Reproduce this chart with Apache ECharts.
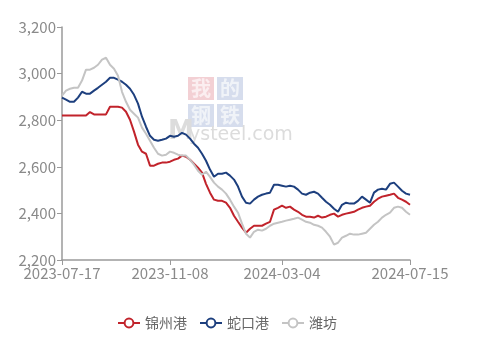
<!DOCTYPE html>
<html>
<head>
<meta charset="utf-8">
<script src="https://cdn.jsdelivr.net/npm/echarts@6/dist/echarts.min.js"></script>
<style>html,body{margin:0;padding:0;background:#fff;}#c{width:500px;height:338px;}</style>
</head>
<body>
<div id="c"></div>
<script>
const dates = [
'2023-07-17','2023-07-20','2023-07-25','2023-07-28','2023-08-02','2023-08-07','2023-08-10','2023-08-15','2023-08-18','2023-08-23','2023-08-28','2023-08-31','2023-09-05','2023-09-08','2023-09-13','2023-09-18','2023-09-21','2023-09-26','2023-10-09','2023-10-12','2023-10-17','2023-10-20','2023-10-25','2023-10-30','2023-11-01','2023-11-03','2023-11-06','2023-11-08',
'2023-11-13','2023-11-16','2023-11-21','2023-11-24','2023-11-29','2023-12-04','2023-12-07','2023-12-12','2023-12-15','2023-12-20','2023-12-25','2023-12-28','2024-01-03','2024-01-08','2024-01-11','2024-01-16','2024-01-19','2024-01-24','2024-01-29','2024-02-01','2024-02-06','2024-02-19','2024-02-21','2024-02-23','2024-02-26','2024-02-28','2024-03-01','2024-03-04',
'2024-03-07','2024-03-12','2024-03-15','2024-03-20','2024-03-25','2024-03-28','2024-04-02','2024-04-08','2024-04-11','2024-04-16','2024-04-19','2024-04-24','2024-04-28','2024-05-06','2024-05-09','2024-05-14','2024-05-17','2024-05-22','2024-05-27','2024-05-30','2024-06-04','2024-06-07','2024-06-13','2024-06-18','2024-06-21','2024-06-26','2024-07-01','2024-07-04','2024-07-09','2024-07-11','2024-07-12','2024-07-15'
];
const xTickLabels = ['2023-07-17','2023-11-08','2024-03-04','2024-07-15'];
const seriesNames = ['锦州港','蛇口港','潍坊'];
const jinzhou = [2820,2820,2820,2820,2820,2820,2820,2835,2825,2825,2825,2825,2858,2858,2858,2854,2836,2802,2751,2695,2665,2656,2605,2605,2613,2618,2618,2622,2630,2635,2648,2643,2630,2613,2596,2575,2527,2489,2459,2454,2454,2446,2424,2390,2364,2339,2317,2334,2347,2347,2347,2356,2364,2416,2424,2433,2424,2429,2416,2407,2394,2386,2386,2382,2390,2382,2386,2394,2399,2386,2394,2399,2403,2407,2416,2424,2429,2433,2450,2463,2472,2476,2480,2485,2467,2459,2450,2437];
const shekou = [2897,2888,2879,2879,2897,2922,2914,2914,2927,2939,2952,2965,2982,2982,2974,2965,2952,2935,2909,2871,2815,2772,2733,2716,2712,2716,2721,2733,2729,2733,2746,2738,2721,2699,2682,2656,2626,2588,2557,2570,2570,2575,2562,2545,2515,2472,2446,2442,2459,2472,2480,2485,2489,2523,2523,2519,2515,2519,2515,2502,2485,2480,2489,2493,2485,2467,2450,2437,2420,2407,2437,2446,2442,2442,2454,2472,2459,2446,2489,2502,2506,2502,2527,2532,2515,2497,2485,2480];
const weifang = [2905,2927,2935,2939,2939,2970,3017,3017,3025,3038,3060,3068,3038,3021,2991,2922,2879,2845,2828,2811,2768,2742,2712,2682,2656,2648,2652,2665,2660,2652,2648,2648,2630,2609,2583,2566,2579,2557,2532,2515,2502,2485,2459,2429,2403,2356,2313,2296,2321,2330,2326,2334,2347,2356,2360,2364,2369,2373,2377,2382,2373,2364,2360,2351,2347,2339,2321,2300,2266,2274,2296,2304,2313,2309,2309,2313,2317,2334,2351,2364,2382,2394,2403,2424,2429,2424,2407,2394];
const colors = ['#c1232b','#1d3f7e','#c4c4c4'];

const chart = echarts.init(document.getElementById('c'), null, {renderer:'canvas'});
const font = '"Noto Sans CJK SC","Noto Sans",sans-serif';
const showTick = (idx, val) => xTickLabels.indexOf(val) >= 0;
chart.setOption({
  animation: false,
  backgroundColor: '#fff',
  color: colors,
  grid: {left: 62, right: 90, top: 27, bottom: 78, containLabel: false},
  graphic: [
    {type:'rect', left:188, top:77, shape:{width:26,height:23}, style:{fill:'#f3d0d4'}},
    {type:'rect', left:217, top:77, shape:{width:26,height:23}, style:{fill:'#d6dded'}},
    {type:'rect', left:188, top:104, shape:{width:26,height:23}, style:{fill:'#d6dded'}},
    {type:'rect', left:217, top:104, shape:{width:26,height:23}, style:{fill:'#d6dded'}},
    {type:'text', left:191, top:78, style:{text:'我', fill:'#fbeef0', font:'bold 20px "Noto Sans CJK SC"'}},
    {type:'text', left:220, top:78, style:{text:'的', fill:'#f0f3f8', font:'bold 20px "Noto Sans CJK SC"'}},
    {type:'text', left:191, top:105, style:{text:'钢', fill:'#f0f3f8', font:'bold 20px "Noto Sans CJK SC"'}},
    {type:'text', left:220, top:105, style:{text:'铁', fill:'#f0f3f8', font:'bold 20px "Noto Sans CJK SC"'}},
    {type:'text', left:168, top:119, style:{text:'M', fill:'#dcdcdc', font:'bold 26px "DejaVu Sans"'}},
    {type:'text', left:189, top:126, style:{text:'ysteel.com', fill:'#dcdcdc', font:'19px "DejaVu Sans"'}}
  ],
  legend: {
    data: seriesNames,
    left: 112, top: 311,
    itemWidth: 22, itemHeight: 11, itemGap: 12,
    textStyle: {color: '#666', fontSize: 14, fontFamily: font}
  },
  xAxis: {
    type: 'category',
    data: dates,
    boundaryGap: false,
    axisLine: {lineStyle: {color: '#9a9a9a', width: 1.5}},
    axisTick: {show: true, interval: showTick, length: 5, lineStyle: {color: '#9a9a9a'}},
    axisLabel: {interval: showTick, color: '#8a8a8a', fontSize: 15, fontFamily: font, margin: 6, showMaxLabel: true},
    splitLine: {show: false}
  },
  yAxis: {
    type: 'value',
    min: 2200, max: 3200, interval: 200,
    axisLine: {show: true, lineStyle: {color: '#9a9a9a', width: 1.5}},
    axisTick: {show: true, length: 5, lineStyle: {color: '#9a9a9a'}},
    axisLabel: {color: '#8a8a8a', fontSize: 15, fontFamily: font, margin: 6,
      formatter: v => v.toLocaleString('en-US')},
    splitLine: {show: false}
  },
  series: [
    {name: seriesNames[0], type: 'line', data: jinzhou, showSymbol: false, symbol: 'emptyCircle', symbolSize: 9, lineStyle: {width: 2}},
    {name: seriesNames[1], type: 'line', data: shekou, showSymbol: false, symbol: 'emptyCircle', symbolSize: 9, lineStyle: {width: 2}},
    {name: seriesNames[2], type: 'line', data: weifang, showSymbol: false, symbol: 'emptyCircle', symbolSize: 9, lineStyle: {width: 2}}
  ]
});
</script>
</body>
</html>
